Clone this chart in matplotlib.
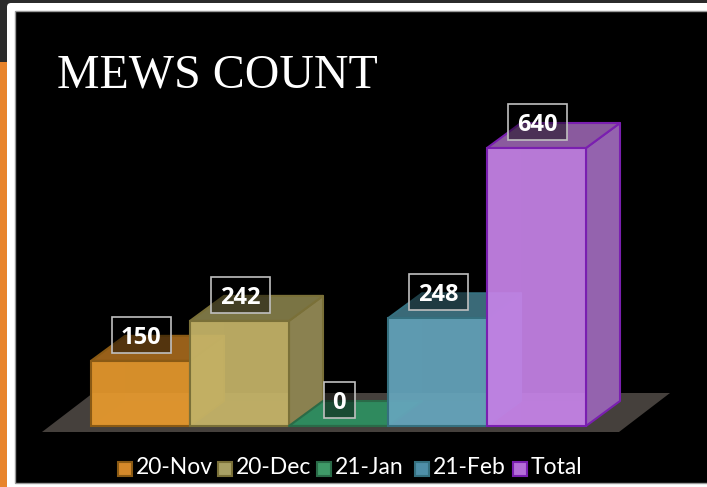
import matplotlib
matplotlib.use('Agg')
import matplotlib.pyplot as plt
from matplotlib.patches import Polygon, Rectangle, FancyBboxPatch

categories = ['20-Nov', '20-Dec', '21-Jan', '21-Feb', 'Total']
values = [150, 242, 0, 248, 640]
front_colors = ['#e79a2e', '#c6b569', '#45a872', '#66a6bd', '#c683e8']
side_colors = ['#9a6a25', '#8a8150', '#2f6f50', '#45727f', '#9463ae']
top_colors = ['#98601a', '#7a7444', '#2f8a5e', '#3a6a78', '#8a5a9e']
edge_colors = ['#8a5a14', '#7a7038', '#2a6b48', '#35707f', '#7a1fb0']
legend_colors = ['#d5892a', '#a9a064', '#3f9a68', '#4f8fa8', '#b46ed8']

W, H = 707, 487
BASE_PX = 426
LEFT_PX, BAR_PX = 91, 99
PX_PER_UNIT = 278 / 640
DX_PX, DY_PX = 34, 25

fig = plt.figure(figsize=(W / 100, H / 100), dpi=100, facecolor='#2b2b2b')


def pixel_axes():
    a = fig.add_axes([0, 0, 1, 1])
    a.set_xlim(0, W)
    a.set_ylim(H, 0)
    a.axis('off')
    a.patch.set_alpha(0)
    return a


# slide frame, in pixels
bg = pixel_axes()
bg.add_patch(Rectangle((0, 62), 8, 425, fc='#e8842c', ec='none'))
bg.add_patch(FancyBboxPatch((10, 6), W, 490, boxstyle='round,pad=3,rounding_size=4', fc='white', ec='none'))
bg.add_patch(Rectangle((15, 11), W, 472, fc='black', ec='#999999', lw=1))
bg.text(57, 87, 'MEWS COUNT', color='white', fontsize=34.5, family='Liberation Serif', va='baseline')

# chart, x in bar slots and y in chart values
ax = fig.add_axes([0, 0, 1, 1])
ax.patch.set_alpha(0)
ax.axis('off')
ax.set_xlim(-0.5 - LEFT_PX / BAR_PX, -0.5 + (W - LEFT_PX) / BAR_PX)
ax.set_ylim(-(H - BASE_PX) / PX_PER_UNIT, BASE_PX / PX_PER_UNIT)

dx = DX_PX / BAR_PX
dy = DY_PX / PX_PER_UNIT

# floor
fy0 = -6 / PX_PER_UNIT
fy1 = 33 / PX_PER_UNIT
ax.add_patch(Polygon([(-0.5 - 49 / BAR_PX, fy0), (4.5 + 33 / BAR_PX, fy0),
                      (4.5 + 84 / BAR_PX, fy1), (-0.5 + 2 / BAR_PX, fy1)],
                     fc='#45403c', ec='none', zorder=1))

for i, (v, fc, sc, tc, ec) in enumerate(zip(values, front_colors, side_colors, top_colors, edge_colors)):
    l, r = i - 0.5, i + 0.5
    z = 2 + i * 0.1
    ax.add_patch(Polygon([(r, 0), (r + dx, dy), (r + dx, v + dy), (r, v)], fc=sc, ec=ec, lw=1.5, joinstyle='round', zorder=z))
    ax.add_patch(Polygon([(l, v), (r, v), (r + dx, v + dy), (l + dx, v + dy)], fc=tc, ec=ec, lw=1.5, joinstyle='round', zorder=z))
    ax.add_patch(Rectangle((l, 0), 1, v, fc=fc, alpha=0.93, ec='none', zorder=z + 0.02))
    # inner walls seen through the front face
    ax.add_patch(Rectangle((l, 0), dx, v, fc=fc, alpha=0.08, ec='none', zorder=z + 0.03))
    if v > 0:
        ax.add_patch(Polygon([(l, 0), (r, 0), (r, min(dy, v)), (l + dx, min(dy, v))], fc=fc, alpha=0.10, ec='none', zorder=z + 0.03))
    ax.add_patch(Rectangle((l, 0), 1, v, fc='none', ec=ec, lw=1.5, zorder=z + 0.05))

# value labels, in pixels
top = pixel_axes()
for i, v in enumerate(values):
    cx = LEFT_PX + BAR_PX * i + 50
    cy = BASE_PX - v * PX_PER_UNIT - 26
    w = 17 + 14 * len(str(v))
    top.add_patch(Rectangle((cx - w / 2, cy - 18), w, 36, fc=(0, 0, 0, 0.45), ec='#c0c0c0', lw=1.2))
    top.text(cx, cy, str(v), color='white', fontsize=17, fontweight='bold', family='Open Sans',
             ha='center', va='center_baseline')

# legend
x_pos = [118, 218, 317, 415, 513]
for name, fc, ec, x in zip(categories, legend_colors, edge_colors, x_pos):
    top.add_patch(Rectangle((x, 461.5), 14, 14, fc=fc, ec=ec, lw=1.5))
    top.text(x + 18, 474.5, name, color='white', fontsize=16.5, family='Lato', va='baseline', ha='left')

fig.savefig('out.png', dpi=100, facecolor=fig.get_facecolor())
